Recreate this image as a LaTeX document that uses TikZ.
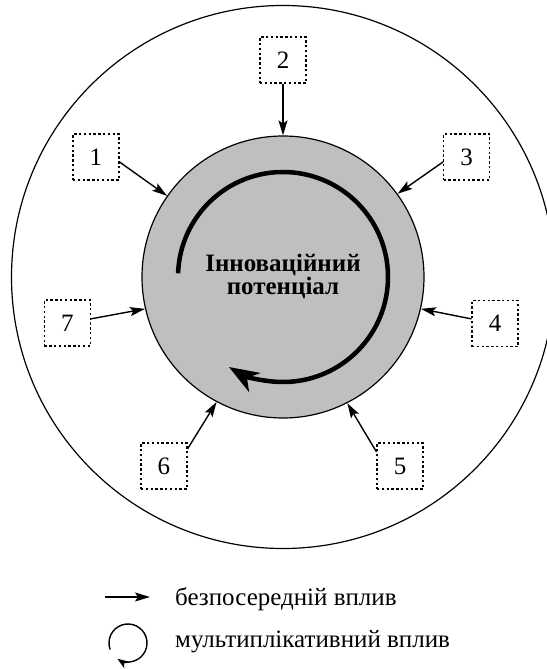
\documentclass[tikz,border=0pt]{standalone}
\usepackage{fontspec}
\setmainfont{Liberation Serif}
\usepackage{tikz}
\usetikzlibrary{
	arrows.meta,
	positioning
}

\begin{document}
\begin{tikzpicture}[x=1pt,y=1pt,
		factor/.style={draw,dash pattern=on 2.4pt off 2.4pt,line width=1.1pt,
			minimum size=46pt,inner sep=0pt,font=\fontsize{25}{25}\selectfont},
		impact/.style={-{Stealth[length=15pt,width=9pt,inset=3pt]},line width=1.4pt},
		legend/.style={anchor=base west,inner sep=0pt,font=\fontsize{25}{25}\selectfont}
	]
		\useasboundingbox (-283,-392) rectangle (263,277);
		\draw
			node[circle,draw,line width=1.2pt,minimum size=543pt] (env) at (0,0) {}
			node[circle,draw,line width=1.2pt,fill=gray!50,minimum size=282pt,
				align=center,font=\bfseries\fontsize{25}{23}\selectfont] (pot) at (0,0)
				{Інноваційний\\потенціал}

			node[factor] (f1) at (-187,120)    {1}
			node[factor] (f2) at (0,217)       {2}
			node[factor] (f3) at (183.5,120)   {3}
			node[factor] (f4) at (212,-46.5)   {4}
			node[factor] (f5) at (117,-189)    {5}
			node[factor] (f6) at (-119,-189)   {6}
			node[factor] (f7) at (-215.5,-46)  {7}

			(f1.-12)   edge[impact] (pot.145)
			(f2.south) edge[impact] (pot.90)
			(f3.192)   edge[impact] (pot.36)
			(f4.169)   edge[impact] (pot.-13)
			(f5.149)   edge[impact] (pot.-63)
			(f6.36)    edge[impact] (pot.-118)
			(f7.10)    edge[impact] (pot.193)
		;
		% multiplicative loop
		\draw[line width=4.5pt,-{Stealth[length=30pt,width=22pt,inset=9pt]}]
			(178:105) arc[start angle=178,end angle=-121,radius=105];

		% legend
		\coordinate (la) at (-178,-320);
		\coordinate (lb) at (-133,-320);
		\draw[impact] (la) -- (lb);
		\node[legend] (t1) at (-108,-328) {безпосередній вплив};
		\coordinate (lc) at (-155,-366);
		\draw[line width=1.4pt,-{Stealth[length=11pt,width=8pt,inset=3pt]}]
			([shift={(200:19)}]lc) arc[start angle=200,end angle=-124,radius=19];
		\node[legend] (t2) at (-108,-370) {мультиплікативний вплив};
	\end{tikzpicture}
\end{document}
